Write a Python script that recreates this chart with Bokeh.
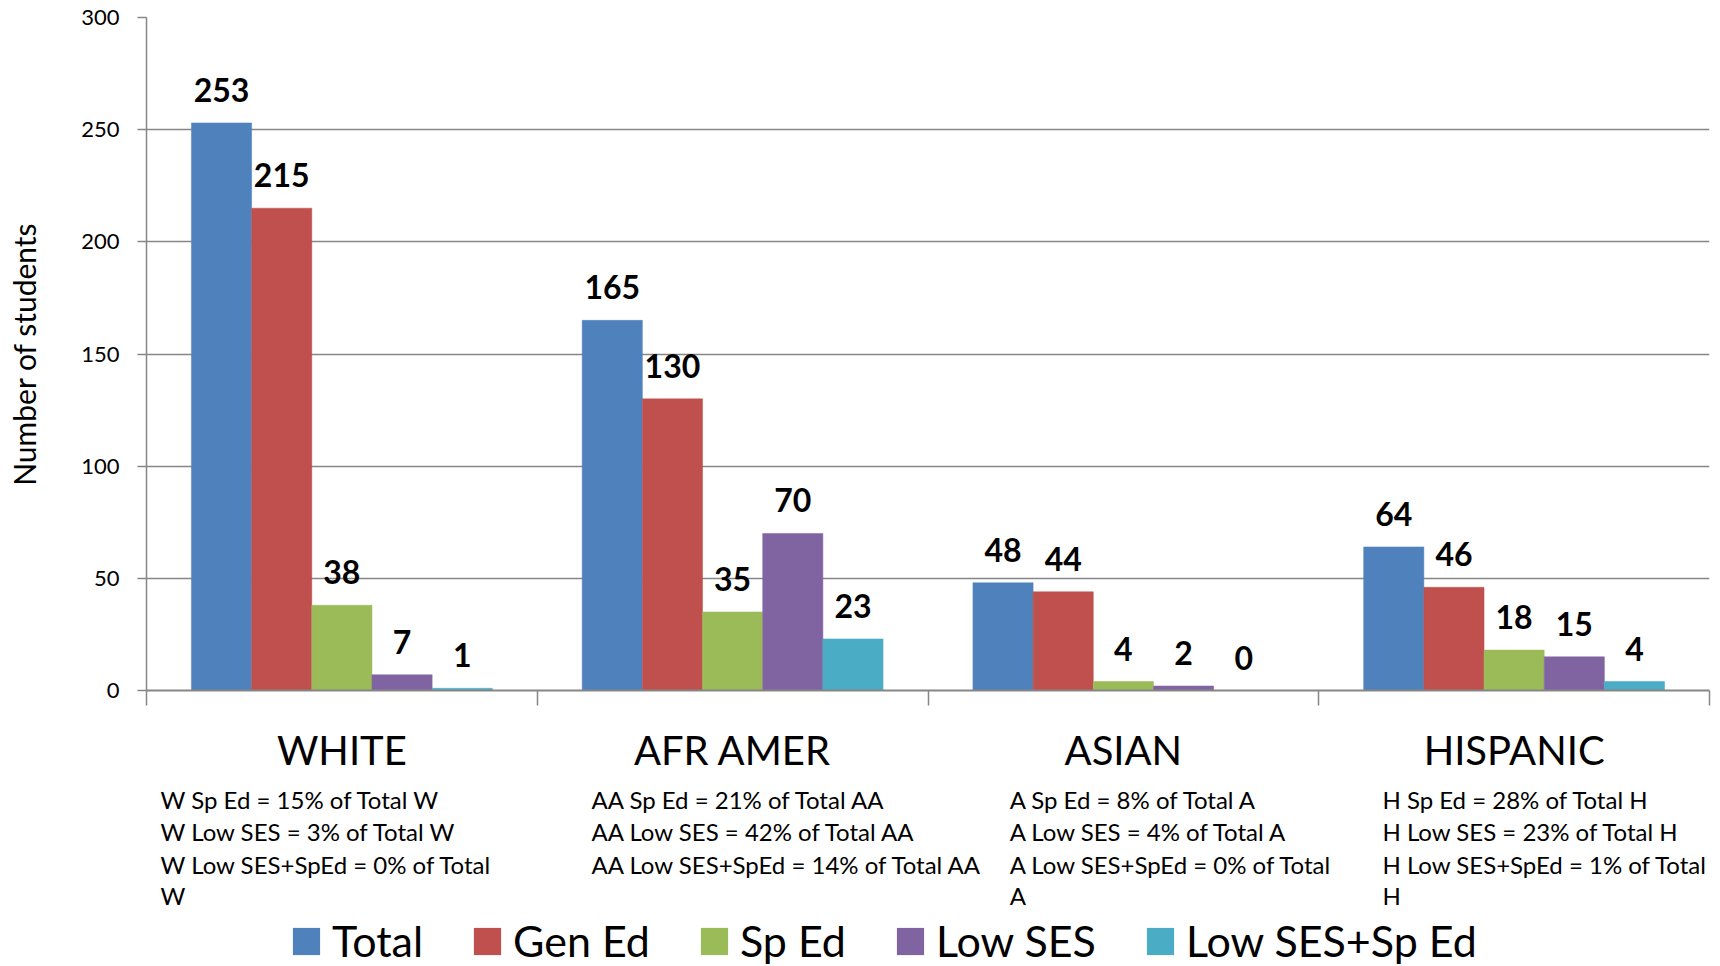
from bokeh.plotting import figure
from bokeh.layouts import column
from bokeh.models import (Range1d, LinearAxis, FixedTicker, Legend, LegendItem,
                          ColumnDataSource)
from bokeh.transform import dodge
from bokeh.core.properties import value
from bokeh.embed import file_html
from bokeh.resources import INLINE

# ---------------- data ----------------
groups = ["WHITE", "AFR AMER", "ASIAN", "HISPANIC"]
series = ["Total", "Gen Ed", "Sp Ed", "Low SES", "Low SES+Sp Ed"]
total = [253, 165, 48, 64]
gen_ed = [215, 130, 44, 46]
sp_ed = [38, 35, 4, 18]
low_ses = [7, 70, 2, 15]
low_ses_sp_ed = [1, 23, 0, 4]
y_ticks = [0, 50, 100, 150, 200, 250, 300]
y_title = "Number of students"

notes_white = ["W Sp Ed  = 15% of Total W",
               "W Low SES = 3% of Total W",
               "W Low SES+SpEd = 0% of Total",
               "W"]
notes_aa = ["AA Sp Ed  = 21% of Total AA",
            "AA Low SES = 42% of Total AA",
            "AA Low SES+SpEd = 14% of Total AA"]
notes_asian = ["A Sp Ed  = 8% of Total A",
               "A Low SES =  4% of Total A",
               "A Low SES+SpEd = 0% of Total",
               "A"]
notes_hisp = ["H Sp Ed  = 28% of Total H",
              "H Low SES = 23% of Total H",
              "H  Low SES+SpEd = 1% of Total",
              "H"]

colors = ["#4F81BD", "#C0504D", "#9BBB59", "#8064A2", "#4BACC6"]
FONT = "Lato"
GRAY = "#868686"

W, H = 1720, 966
LEFT, RIGHT, TOP = 146, 11, 17
FRAME_H = 675
H1 = 776  # height of the bar chart part

# ---------------- main chart ----------------
series_values = [total, gen_ed, sp_ed, low_ses, low_ses_sp_ed]
centers = [i + 0.5 for i in range(len(groups))]
data = {"group": groups, "pos": centers}
keys = []
for i, vals in enumerate(series_values):
    k = f"s{i}"
    keys.append(k)
    data[k] = vals
    data[k + "_txt"] = [str(v) for v in vals]
src = ColumnDataSource(data)

xr = Range1d(0, len(groups))
p = figure(x_range=xr, y_range=Range1d(0, 300),
           width=W, height=H1, output_backend="svg", toolbar_location=None,
           x_axis_location=None,
           min_border_left=LEFT, min_border_right=RIGHT, min_border_top=TOP,
           min_border_bottom=H1 - TOP - FRAME_H)
p.outline_line_color = None
p.xgrid.grid_line_color = None
p.ygrid.grid_line_color = GRAY
p.ygrid.grid_line_width = 1.3
p.ygrid.ticker = FixedTicker(ticks=y_ticks)

bw = 0.154
for i, k in enumerate(keys):
    off = (i - 2) * bw
    p.vbar(x=dodge("pos", off), top=k, width=bw,
           source=src, fill_color=colors[i], line_color=colors[i], line_width=0.5)
    p.text(x=dodge("pos", off), y=k, text=k + "_txt",
           source=src, y_offset=-33, text_align="center", text_baseline="alphabetic",
           text_font=value(FONT), text_font_style="bold", text_font_size="32px",
           text_color="black")

# y axis
ya = p.yaxis[0]
ya.ticker = FixedTicker(ticks=y_ticks)
ya.axis_line_color = GRAY
ya.axis_line_width = 1.5
ya.major_tick_line_color = GRAY
ya.major_tick_line_width = 1.5
ya.major_tick_out = 9
ya.major_tick_in = 0
ya.minor_tick_line_color = None
ya.major_label_text_font = FONT
ya.major_label_text_font_size = "22px"
ya.major_label_text_color = "black"
ya.major_label_standoff = 18
ya.axis_label = y_title
ya.axis_label_text_font = FONT
ya.axis_label_text_font_size = "30px"
ya.axis_label_text_font_style = "normal"
ya.axis_label_text_color = "black"
ya.axis_label_standoff = 36

# x axis: boundary ticks (minor) and group labels (major)
xa = LinearAxis(ticker=FixedTicker(ticks=centers, minor_ticks=list(range(len(groups) + 1))),
                major_label_overrides={c: g for c, g in zip(centers, groups)})
xa.axis_line_color = GRAY
xa.axis_line_width = 2
xa.major_tick_line_color = None
xa.major_tick_out = 0
xa.major_tick_in = 0
xa.minor_tick_line_color = GRAY
xa.minor_tick_line_width = 1.5
xa.minor_tick_out = 15
xa.minor_tick_in = 0
xa.major_label_text_font = FONT
xa.major_label_text_font_size = "40px"
xa.major_label_text_color = "black"
xa.major_label_standoff = 20
p.add_layout(xa, "below")

# ---------------- notes + legend strip ----------------
p2 = figure(x_range=xr, y_range=Range1d(H, H1),
            width=W, height=H - H1, output_backend="svg", toolbar_location=None,
            x_axis_location=None, y_axis_location=None,
            min_border_left=LEFT, min_border_right=RIGHT, min_border_top=0,
            min_border_bottom=0)
p2.outline_line_color = None
p2.xgrid.grid_line_color = None
p2.ygrid.grid_line_color = None

note_sets = [notes_white, notes_aa, notes_asian, notes_hisp]
note_x = [0.036, 1.139, 2.209, 3.163]
note_rows = [799, 831, 864, 895]
nx_col, ny_col, nt_col = [], [], []
for nx, notes in zip(note_x, note_sets):
    for j, t in enumerate(notes):
        nx_col.append(nx)
        ny_col.append(note_rows[j])
        nt_col.append(t)
p2.text(x=nx_col, y=ny_col, text=nt_col, text_align="left", text_baseline="middle",
        text_font=value(FONT), text_font_size="24px", text_color="black")

# legend swatches: zero-width copies of the series (nothing drawn in the strip)
leg_renderers = []
for i, k in enumerate(keys):
    off = (i - 2) * bw
    leg_renderers.append(p2.vbar(x=dodge("pos", off), top=k, width=0, source=src,
                                 fill_color=colors[i], line_color=None))
items = [LegendItem(label=s, renderers=[r]) for s, r in zip(series, leg_renderers)]
legend = Legend(items=items, orientation="horizontal", location=(143, 0),
                glyph_width=34, glyph_height=34, label_standoff=9, spacing=47,
                padding=0, margin=0, border_line_color=None, background_fill_alpha=0,
                label_text_font=FONT, label_text_font_size="43px",
                label_text_color="black")
p2.add_layout(legend)

layout = column(p, p2, spacing=0)
open("out.html", "w").write(file_html(layout, INLINE))
